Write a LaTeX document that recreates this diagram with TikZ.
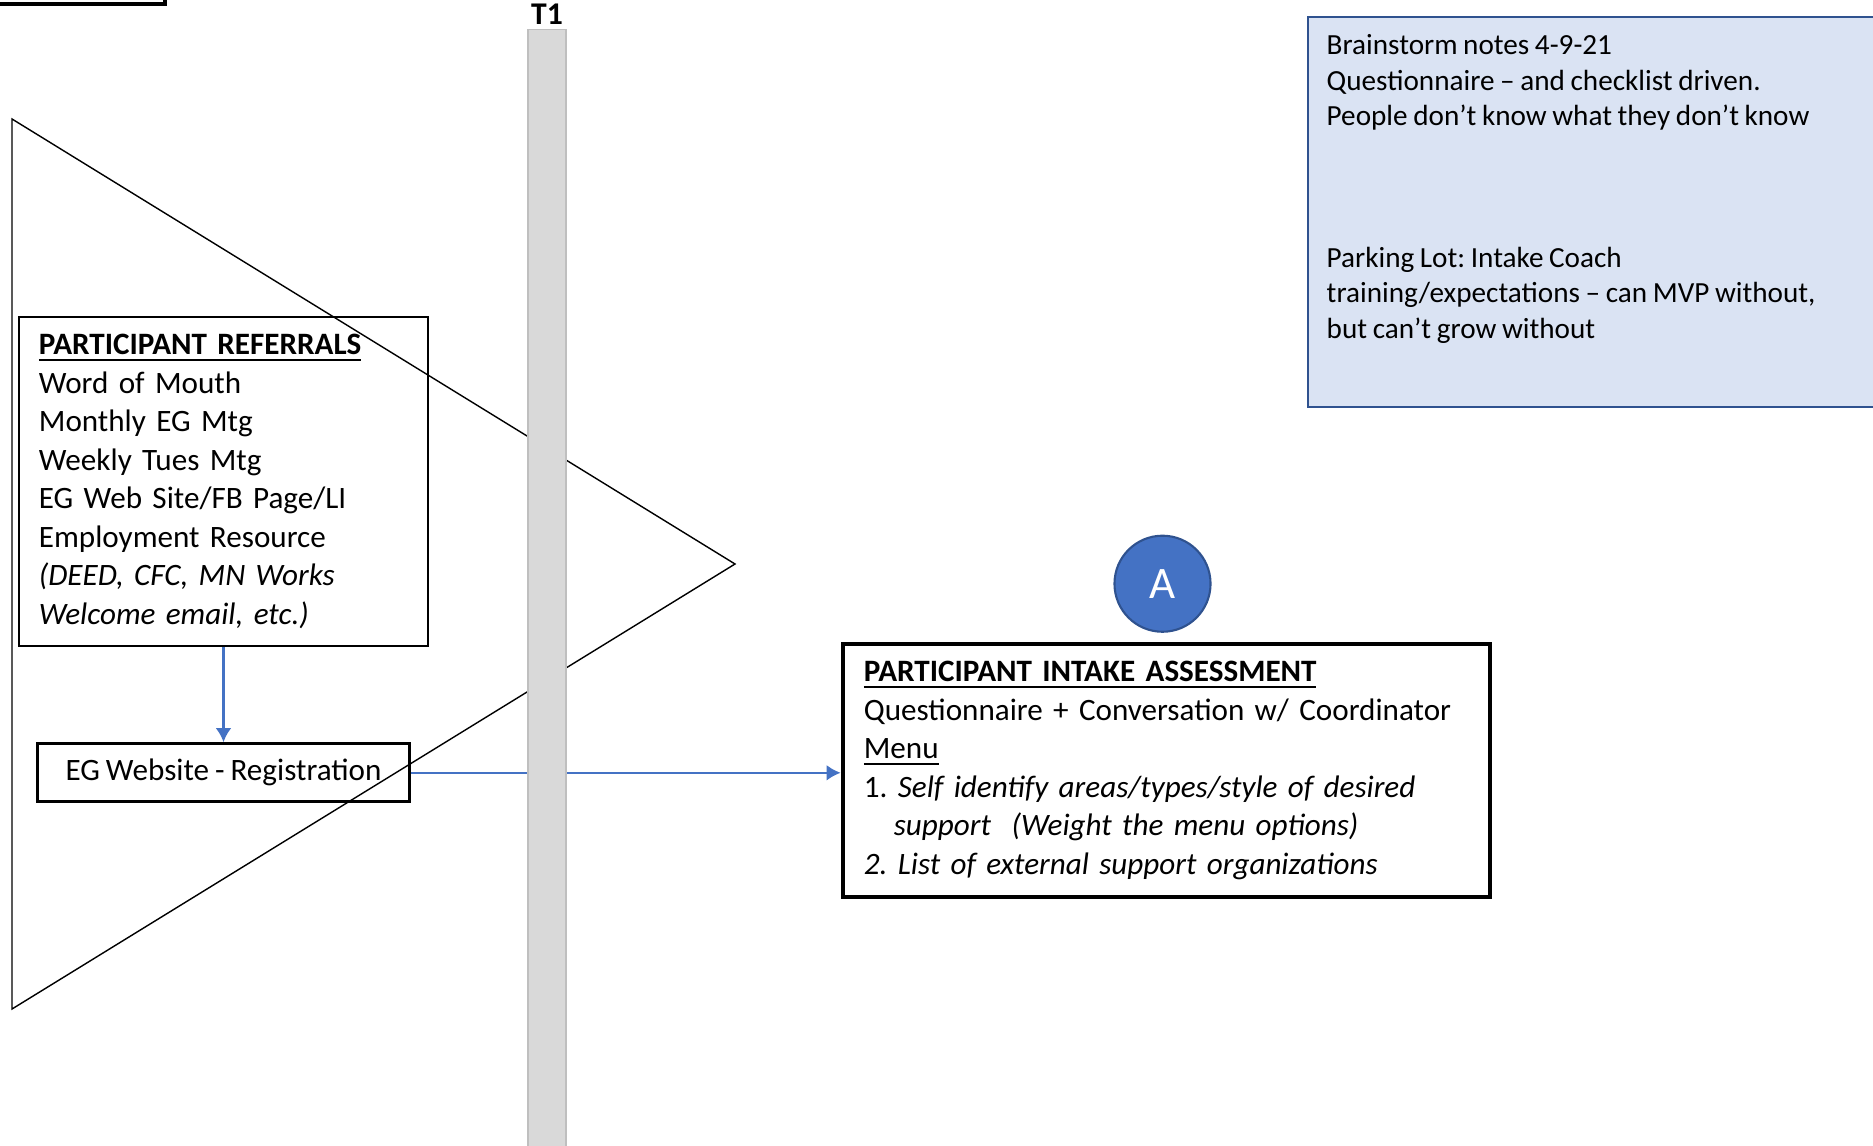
\documentclass[tikz,border=0pt]{standalone}
\usepackage{fontspec}
\setmainfont{Carlito}[WordSpace=0.85]
\usetikzlibrary{positioning,arrows.meta}
\frenchspacing

\definecolor{accentblue}{HTML}{4472C4}
\definecolor{darkblue}{HTML}{2F528F}
\definecolor{noteblue}{HTML}{DAE3F3}
\definecolor{bargray}{HTML}{D9D9D9}

\newcommand{\bodyfont}{\fontsize{8.85}{10.95}\selectfont}

\begin{document}
\begin{tikzpicture}[x=0.01cm, y=-0.01cm, >={Latex[length=4pt,width=4.5pt]}]
    \useasboundingbox (0,0) rectangle (1873,1146);
    \clip (0,0) rectangle (1873,1146);

    % Cut-off box in the corner
    \node[draw, line width=1.1pt, minimum width=3cm, minimum height=1cm, anchor=south east] (corner) at (167,6) {};

    % Notes box
    \node[draw=darkblue, fill=noteblue, line width=0.6pt, minimum width=6cm, minimum height=3.9cm, anchor=north west] (notes) at (1307,16) {};
    \node[anchor=north west, inner sep=0, align=left, font=\fontsize{8.3}{10.07}\selectfont] (notestext) at (1326,34) {Brainstorm notes 4-9-21\\ Questionnaire – and checklist driven.\\ People don’t know what they don’t know\\[30.2pt] Parking Lot: Intake Coach\\ training/expectations – can MVP without,\\ but can’t grow without};

    % Referrals box
    \node[draw, line width=0.6pt, text width=3.69cm, inner xsep=0.2cm, minimum height=3.29cm, align=left, font=\bodyfont] (ref) at (223.5,481.5) {\underline{\textbf{PARTICIPANT REFERRALS}}\\ Word of Mouth\\ Monthly EG Mtg\\ Weekly Tues Mtg\\ EG Web Site/FB Page/LI\\ Employment Resource\\ \textit{(DEED, CFC, MN Works}\\ \textit{Welcome email, etc.)}};

    % Registration box
    \node[draw, line width=0.9pt, minimum width=3.72cm, minimum height=0.58cm, font=\bodyfont, below=0.95cm of ref] (web) {EG Website - Registration};

    % Intake box
    \node[draw, line width=1.2pt, text width=6.05cm, inner xsep=0.21cm, minimum height=2.53cm, align=left, font=\bodyfont] (intake) at (1166.5,770.5) {\underline{\textbf{PARTICIPANT INTAKE ASSESSMENT}}\\ Questionnaire + Conversation w/ Coordinator\\ \underline{Menu}\\ 1. \textit{Self identify areas/types/style of desired}\\ \hspace*{0.3cm}\textit{support\ \ (Weight the menu options)}\\ \textit{2. List of external support organizations}};

    % Circle marker
    \node[circle, fill=accentblue, draw=darkblue, line width=0.6pt, minimum size=0.96cm, inner sep=0, text=white, font=\fontsize{12.8}{15}\selectfont, above=0.09cm of intake, xshift=-0.04cm] (A) {A};

    % Flow arrows
    \draw[->, accentblue, line width=0.7pt] (ref) -- (web);
    \draw[->, accentblue, line width=0.7pt] (web.east) -- (web.east -| intake.west);

    % Big triangle
    \draw[line width=0.4pt] (12,119) -- (735,564) -- (12,1009) -- cycle;

    % Time bar
    \node[fill=bargray, draw=gray!50, line width=0.3pt, minimum width=0.38cm, minimum height=11.2cm, inner sep=0] (bar) at (547,590) {};
    \node[above=0.04cm of bar, inner sep=0, font=\bfseries\fontsize{9}{10}\selectfont] (T1) {T1};
\end{tikzpicture}
\end{document}
